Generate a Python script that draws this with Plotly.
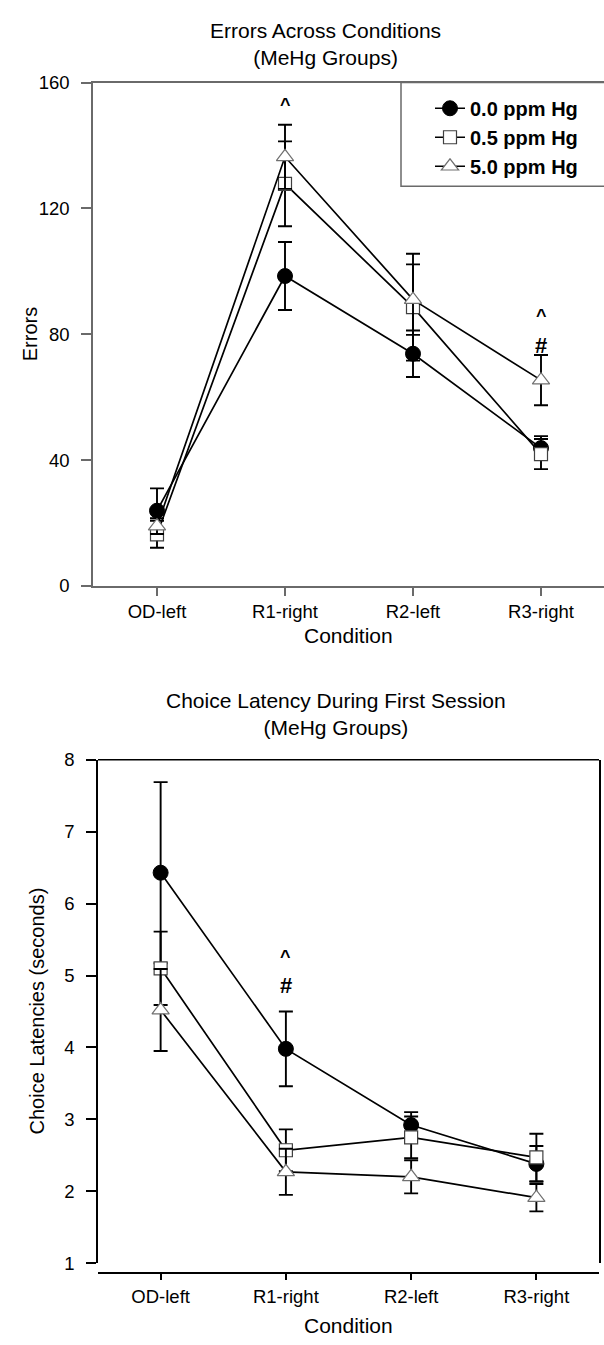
import plotly.graph_objects as go

W, H = 604, 1345

# ---------------- data ----------------
conditions = ["OD-left", "R1-right", "R2-left", "R3-right"]
groups = ["0.0 ppm Hg", "0.5 ppm Hg", "5.0 ppm Hg"]

# Errors across conditions (mean, SEM)
errors_00 = [23.9, 98.5, 73.8, 43.8]
errors_00_sem = [7.1, 10.8, 7.4, 3.8]
errors_05 = [16.4, 127.8, 88.6, 41.9]
errors_05_sem = [4.3, 13.5, 17.0, 4.8]
errors_50 = [19.0, 136.4, 91.0, 65.4]
errors_50_sem = [2.5, 10.2, 11.2, 8.0]

# Choice latency during first session (seconds, mean, SEM)
latency_00 = [6.43, 3.98, 2.92, 2.38]
latency_00_sem = [1.26, 0.52, 0.18, 0.25]
latency_05 = [5.10, 2.57, 2.75, 2.47]
latency_05_sem = [0.51, 0.29, 0.29, 0.33]
latency_50 = [4.52, 2.27, 2.20, 1.91]
latency_50_sem = [0.57, 0.32, 0.23, 0.19]

errors_yticks = [0, 40, 80, 120, 160]
latency_yticks = [1, 2, 3, 4, 5, 6, 7, 8]

# significance symbols (condition, value, symbol)
sig_errors = [("R1-right", 154.0, "^"), ("R3-right", 87.0, "^"), ("R3-right", 76.4, "#")]
sig_latency = [("R1-right", 5.32, "^"), ("R1-right", 4.86, "#")]

# ---------------- styles ----------------
FONT = "Liberation Sans, Arial, Helvetica, sans-serif"
styles = [
    dict(symbol="circle", size=15, color="black", line=dict(color="black", width=1)),
    dict(symbol="square", size=13, color="white", line=dict(color="#404040", width=1.2)),
    dict(symbol="triangle-up", size=15, color="white", line=dict(color="#707070", width=1.2)),
]


def px(x):
    return x / W


def py(y):
    return 1 - y / H


# pixel frame of the two panels
TOP_L, TOP_R, TOP_T, TOP_B = 93, 604, 72.7, 584
BOT_L, BOT_R, BOT_T, BOT_B, BOT_XLINE = 98, 599, 760.7, 1272, 1281.7
TOP_STEP = 128.0

fig = go.Figure()

top_sets = [(errors_00, errors_00_sem), (errors_05, errors_05_sem), (errors_50, errors_50_sem)]
bot_sets = [(latency_00, latency_00_sem), (latency_05, latency_05_sem), (latency_50, latency_50_sem)]

for name, st, (vals, sem) in zip(groups, styles, top_sets):
    fig.add_trace(go.Scatter(
        x=conditions, y=vals, name=name, mode="lines+markers",
        line=dict(color="black", width=1.7),
        marker=st,
        error_y=dict(type="data", array=sem, visible=True, color="black", thickness=1.9, width=7),
        xaxis="x", yaxis="y", showlegend=True,
    ))

for name, st, (vals, sem) in zip(groups, styles, bot_sets):
    fig.add_trace(go.Scatter(
        x=conditions, y=vals, name=name, mode="lines+markers",
        line=dict(color="black", width=1.7),
        marker=st,
        error_y=dict(type="data", array=sem, visible=True, color="black", thickness=1.9, width=7),
        xaxis="x2", yaxis="y2", showlegend=False,
    ))

top_axis_col = "#6a6a6a"
tickfont = dict(family=FONT, size=18.5, color="black")

fig.update_layout(
    width=W, height=H,
    margin=dict(l=0, r=0, t=0, b=0),
    paper_bgcolor="white", plot_bgcolor="white",
    font=dict(family=FONT, color="black"),
    xaxis=dict(
        domain=[px(TOP_L), px(TOP_R)], anchor="y",
        type="category", categoryorder="array", categoryarray=conditions,
        range=[-0.5, -0.5 + (TOP_R - TOP_L) / TOP_STEP],
        showgrid=False, zeroline=False,
        showline=True, linecolor=top_axis_col, linewidth=1.5, mirror=True,
        ticks="outside", ticklen=8, tickwidth=1.5, tickcolor=top_axis_col,
        tickfont=tickfont,
    ),
    yaxis=dict(
        domain=[py(TOP_B), py(TOP_T)], anchor="x",
        range=[0, 160], tickvals=errors_yticks,
        showgrid=False, zeroline=False,
        showline=True, linecolor=top_axis_col, linewidth=1.5,
        ticks="outside", ticklen=10, tickwidth=1.5, tickcolor=top_axis_col,
        tickfont=tickfont, ticklabelstandoff=8,
    ),
    xaxis2=dict(
        domain=[px(BOT_L), px(BOT_R)], anchor="free", position=py(BOT_XLINE),
        type="category", categoryorder="array", categoryarray=conditions,
        range=[-0.5, 3.5],
        showgrid=False, zeroline=False,
        showline=True, linecolor="black", linewidth=1.5,
        ticks="outside", ticklen=7, tickwidth=1.5, tickcolor="black",
        tickfont=tickfont,
    ),
    yaxis2=dict(
        domain=[py(BOT_B), py(BOT_T)], anchor="x2",
        range=[1, 8], tickvals=latency_yticks,
        showgrid=False, zeroline=False,
        showline=True, linecolor="black", linewidth=1.5, mirror=True,
        ticks="outside", ticklen=10, tickwidth=1.5, tickcolor="black",
        tickfont=tickfont, ticklabelstandoff=8,
    ),
    legend=dict(
        x=px(430), y=py(79), xanchor="left", yanchor="top",
        bgcolor="rgba(0,0,0,0)", borderwidth=0,
        font=dict(family=FONT, size=20, color="black", weight="bold"),
        itemsizing="trace", tracegroupgap=0,
    ),
    showlegend=True,
)

shapes = [
    # legend box
    dict(type="rect", xref="paper", yref="paper",
         x0=px(401), x1=px(612), y0=py(178), y1=py(TOP_T),
         line=dict(color=top_axis_col, width=1.5), fillcolor="rgba(0,0,0,0)", layer="above"),
    # bottom panel top frame line
    dict(type="line", xref="x2 domain", yref="y2 domain", x0=0, x1=1, y0=1, y1=1,
         line=dict(color="black", width=1.5)),
]
fig.update_layout(shapes=shapes)

ann = []
ann.append(dict(text="Errors Across Conditions<br>(MeHg Groups)", xref="paper", yref="paper",
                x=px(325.6), y=py(33.7), showarrow=False, xanchor="center", yanchor="middle",
                font=dict(family=FONT, size=21, color="black")))
ann.append(dict(text="Choice Latency During First Session<br>(MeHg Groups)", xref="paper", yref="paper",
                x=px(335.5), y=py(714.5), showarrow=False, xanchor="center", yanchor="middle",
                font=dict(family=FONT, size=21, color="black")))
ann.append(dict(text="Condition", xref="paper", yref="paper",
                x=px((TOP_L + TOP_R) / 2), y=py(634), showarrow=False, xanchor="center", yanchor="middle",
                font=dict(family=FONT, size=21, color="black")))
ann.append(dict(text="Condition", xref="paper", yref="paper",
                x=px((BOT_L + BOT_R) / 2), y=py(1335), showarrow=False, xanchor="center", yanchor="middle",
                font=dict(family=FONT, size=21, color="black")))
ann.append(dict(text="Errors", xref="paper", yref="paper", textangle=-90,
                x=px(30), y=py((TOP_T + TOP_B) / 2), showarrow=False, xanchor="center", yanchor="middle",
                font=dict(family=FONT, size=20, color="black")))
ann.append(dict(text="Choice Latencies (seconds)", xref="paper", yref="paper", textangle=-90,
                x=px(37), y=py((BOT_T + BOT_B) / 2), showarrow=False, xanchor="center", yanchor="middle",
                font=dict(family=FONT, size=20, color="black")))

for cond, val, sym in sig_errors:
    ann.append(dict(text=f"<b>{sym}</b>", x=cond, y=val, xref="x", yref="y", showarrow=False,
                    yshift=-4 if sym == "^" else 0,
                    font=dict(family=FONT, size=22 if sym == "#" else 18, color="black")))
for cond, val, sym in sig_latency:
    ann.append(dict(text=f"<b>{sym}</b>", x=cond, y=val, xref="x2", yref="y2", showarrow=False,
                    yshift=-4 if sym == "^" else 0,
                    font=dict(family=FONT, size=22 if sym == "#" else 18, color="black")))

fig.update_layout(annotations=ann)

fig.write_html(
    "out.html",
    config={"displayModeBar": False},
    post_script="document.body.style.margin='0';document.body.style.padding='0';"
                "document.documentElement.style.overflow='hidden';",
)
